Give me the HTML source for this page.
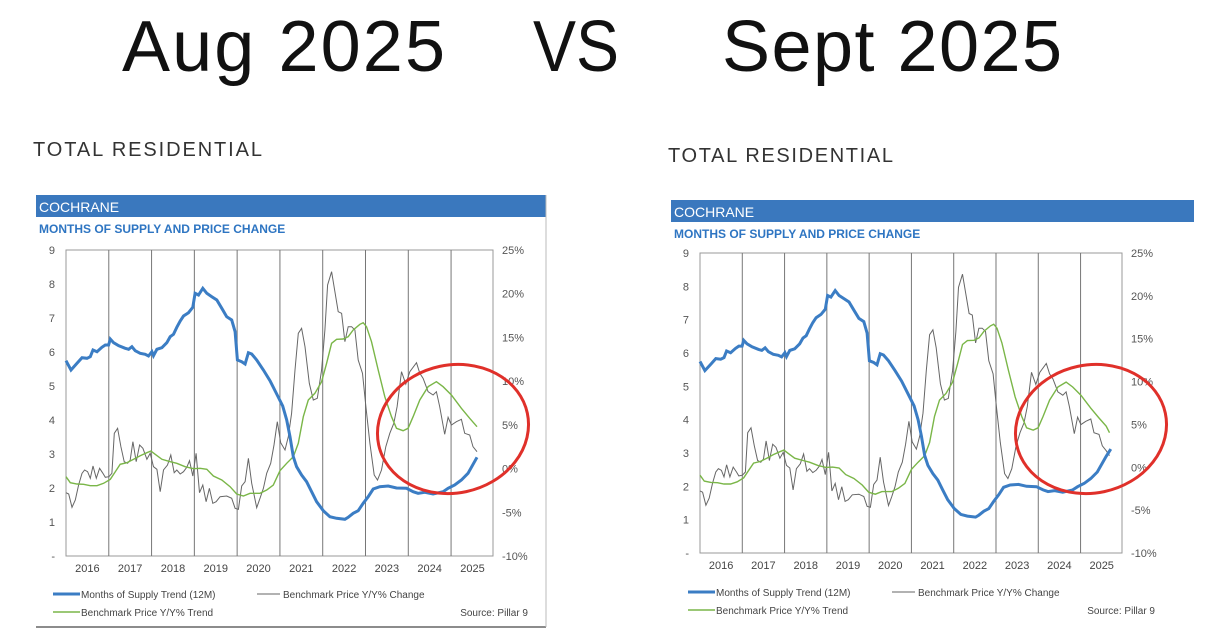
<!DOCTYPE html>
<html><head><meta charset="utf-8"><style>
html,body{margin:0;padding:0;background:#fff;width:1208px;height:642px;overflow:hidden}
svg{position:absolute;left:0;top:0}
</style></head><body>
<svg id="s" width="1208" height="642" xmlns="http://www.w3.org/2000/svg" font-family="Liberation Sans, sans-serif">
<text x="122" y="71" font-size="72" fill="#111" textLength="323" lengthAdjust="spacing">Aug 2025</text>
<text x="533" y="71" font-size="72" fill="#111" textLength="86" lengthAdjust="spacingAndGlyphs">VS</text>
<text x="722" y="71" font-size="72" fill="#111" textLength="340" lengthAdjust="spacing">Sept 2025</text>
<text x="33" y="156" font-size="20" fill="#333" textLength="229" lengthAdjust="spacing">TOTAL RESIDENTIAL</text>
<text x="668" y="162" font-size="20" fill="#333" textLength="225" lengthAdjust="spacing">TOTAL RESIDENTIAL</text>
</svg>
<script>
var B=[[107,512],[122,540],[140,520],[155,503],[170,505],[180,500],[188,480],[200,485],[215,472],[225,465],[235,465],[240,447],[250,458],[265,467],[285,475],[295,478],[305,470],[315,482],[330,490],[345,493],[355,498],[365,485],[370,497],[380,478],[395,473],[410,458],[420,440],[430,433],[440,412],[450,393],[460,378],[475,368],[488,352],[495,310],[505,315],[518,295],[530,310],[545,320],[560,330],[575,355],[590,380],[605,390],[615,425],[622,510],[635,515],[645,522],[655,488],[665,492],[680,510],[700,540],[720,572],[740,612],[758,648],[770,690],[780,740],[790,800],[800,830],[815,855],[830,875],[845,905],[860,935],[880,962],[900,980],[920,985],[945,988],[955,982],[970,970],[985,962],[1000,940],[1015,920],[1030,897],[1050,890],[1075,888],[1100,894],[1130,895],[1150,905],[1165,910],[1185,907],[1210,912],[1240,905],[1255,895],[1275,885],[1295,870],[1315,850],[1342,802]];
var G=[[107,860],[120,878],[140,882],[160,883],[180,887],[200,887],[220,880],[240,868],[255,845],[270,823],[290,818],[310,808],[330,797],[350,788],[362,783],[375,793],[395,808],[420,815],[440,820],[465,830],[490,836],[510,835],[530,838],[550,858],[575,870],[600,890],[620,912],[640,918],[660,910],[690,910],[710,900],[730,885],[750,842],[770,820],[790,800],[805,760],[820,680],[835,630],[855,610],[875,575],[890,520],[905,460],[920,448],[940,447],[955,440],[970,420],[990,403],[1000,398],[1010,410],[1025,455],[1045,540],[1065,620],[1085,680],[1100,715],[1120,722],[1135,715],[1150,680],[1170,630],[1195,590],[1220,575],[1240,590],[1265,615],[1295,655],[1320,685],[1342,710]];
var K=[[107,908],[115,912],[125,952],[135,930],[145,885],[155,850],[163,840],[172,845],[180,865],[188,828],[198,865],[208,835],[218,850],[225,862],[236,860],[245,850],[252,730],[262,715],[272,770],[282,815],[292,820],[300,810],[308,755],[318,815],[328,765],[338,775],[350,808],[360,790],[370,830],[380,838],[390,905],[400,840],[412,825],[422,795],[432,848],[440,840],[450,852],[460,845],[470,832],[478,812],[488,858],[498,790],[508,908],[518,885],[528,935],[538,895],[548,940],[558,935],[570,920],[590,918],[605,925],[615,955],[625,958],[635,888],[645,875],[655,805],[665,880],[680,953],[690,925],[700,895],[710,850],[722,820],[732,765],[742,695],[752,758],[765,780],[775,740],[785,670],[795,540],[805,430],[815,415],[825,470],[838,580],[850,630],[862,625],[875,540],[885,420],[893,285],[905,245],[915,305],[925,365],[935,370],[945,455],[955,410],[965,410],[975,420],[985,510],[998,550],[1008,650],[1020,760],[1033,855],[1043,870],[1055,840],[1068,770],[1080,730],[1092,700],[1102,650],[1115,545],[1128,582],[1140,545],[1160,518],[1170,550],[1180,565],[1195,605],[1210,615],[1220,605],[1230,650],[1245,733],[1255,682],[1265,705],[1280,695],[1295,688],[1305,730],[1320,735],[1330,770],[1342,785]];
var s=document.getElementById('s'),h='';
function chart(c){
 var L=c.L,R=c.R,T=c.T,Bt=c.B,W=R-L,H=Bt-T;
 function X(z){return (L+(z-107)/1283*W).toFixed(1)}
 function Y(z){return (T+(z-180)/918*H).toFixed(1)}
 function P(a){return a.map(function(p,i){return (i?'L':'M')+X(p[0])+' '+Y(p[1])}).join('')}
 h+='<rect x="'+c.bx+'" y="'+c.hy+'" width="'+c.bw+'" height="'+c.hh+'" fill="#3a78be"/>';
 h+='<text x="'+(c.bx+3)+'" y="'+(c.hy+c.hh-5)+'" font-size="14" fill="#fff">COCHRANE</text>';
 h+='<text x="'+(c.bx+3)+'" y="'+(c.hy+c.hh+16)+'" font-size="12" font-weight="bold" fill="#2e75c2">MONTHS OF SUPPLY AND PRICE CHANGE</text>';
 if(c.bottom) h+='<line x1="'+c.bx+'" y1="'+c.bottom+'" x2="'+(c.bx+c.bw)+'" y2="'+c.bottom+'" stroke="#666" stroke-width="1.5"/><line x1="'+(c.bx+c.bw)+'" y1="'+c.hy+'" x2="'+(c.bx+c.bw)+'" y2="'+c.bottom+'" stroke="#bbb"/>';
 h+='<rect x="'+L+'" y="'+T+'" width="'+W+'" height="'+H+'" fill="none" stroke="#999" stroke-width="1"/>';
 var yw=W/9.98;
 for(var i=1;i<10;i++){var x=L+i*yw;h+='<line x1="'+x+'" y1="'+T+'" x2="'+x+'" y2="'+Bt+'" stroke="#777" stroke-width="1"/>';}
 for(var i=0;i<10;i++){h+='<text x="'+(L+(i+0.5)*yw)+'" y="'+(Bt+16)+'" font-size="11" fill="#444" text-anchor="middle">'+(2016+i)+'</text>';}
 for(var i=0;i<=9;i++){h+='<text x="'+(L-11)+'" y="'+(Bt-i*H/9+4)+'" font-size="11" fill="#555" text-anchor="end">'+(i?i:'-')+'</text>';}
 for(var i=0;i<=7;i++){h+='<text x="'+(R+9)+'" y="'+(Bt-i*H/7+4)+'" font-size="11" fill="#555">'+(-10+5*i)+'%</text>';}
 var b=B.slice(),g=G.slice(),k=K.slice();
 if(c.ext){b.push([1356,780]);g.push([1352,730]);k.push([1352,800]);}
 h+='<path d="'+P(k)+'" fill="none" stroke="#666" stroke-width="1"/>';
 h+='<path d="'+P(g)+'" fill="none" stroke="#7ab648" stroke-width="1.4"/>';
 h+='<path d="'+P(b)+'" fill="none" stroke="#3b7dc4" stroke-width="3"/>';
 var ly=c.ly;
 h+='<line x1="'+(c.bx+17)+'" y1="'+ly+'" x2="'+(c.bx+44)+'" y2="'+ly+'" stroke="#3b7dc4" stroke-width="3"/>';
 h+='<text x="'+(c.bx+45)+'" y="'+(ly+4)+'" font-size="10" fill="#444">Months of Supply Trend (12M)</text>';
 h+='<line x1="'+(c.bx+221)+'" y1="'+ly+'" x2="'+(c.bx+244)+'" y2="'+ly+'" stroke="#666" stroke-width="1"/>';
 h+='<text x="'+(c.bx+247)+'" y="'+(ly+4)+'" font-size="10" fill="#444">Benchmark Price Y/Y% Change</text>';
 h+='<line x1="'+(c.bx+17)+'" y1="'+(ly+18)+'" x2="'+(c.bx+44)+'" y2="'+(ly+18)+'" stroke="#7ab648" stroke-width="1.5"/>';
 h+='<text x="'+(c.bx+45)+'" y="'+(ly+22)+'" font-size="10" fill="#444">Benchmark Price Y/Y% Trend</text>';
 h+='<text x="'+c.srcx+'" y="'+(ly+22)+'" font-size="10" fill="#444" text-anchor="end">Source: Pillar 9</text>';
 h+='<ellipse cx="'+c.ex+'" cy="'+c.ey+'" rx="'+c.rx+'" ry="'+c.ry+'" transform="rotate(-12 '+c.ex+' '+c.ey+')" fill="none" stroke="#e0302a" stroke-width="3"/>';
}
chart({L:66,R:493,T:250,B:556,bx:36,bw:510,hy:195,hh:22,bottom:627,ly:594,srcx:528,ext:false,ex:453,ey:429,rx:76,ry:64});
chart({L:700,R:1122,T:253,B:553,bx:671,bw:523,hy:200,hh:22,bottom:0,ly:592,srcx:1155,ext:true,ex:1091,ey:429,rx:76,ry:64});
s.insertAdjacentHTML('beforeend',h);
</script>
</body></html>
